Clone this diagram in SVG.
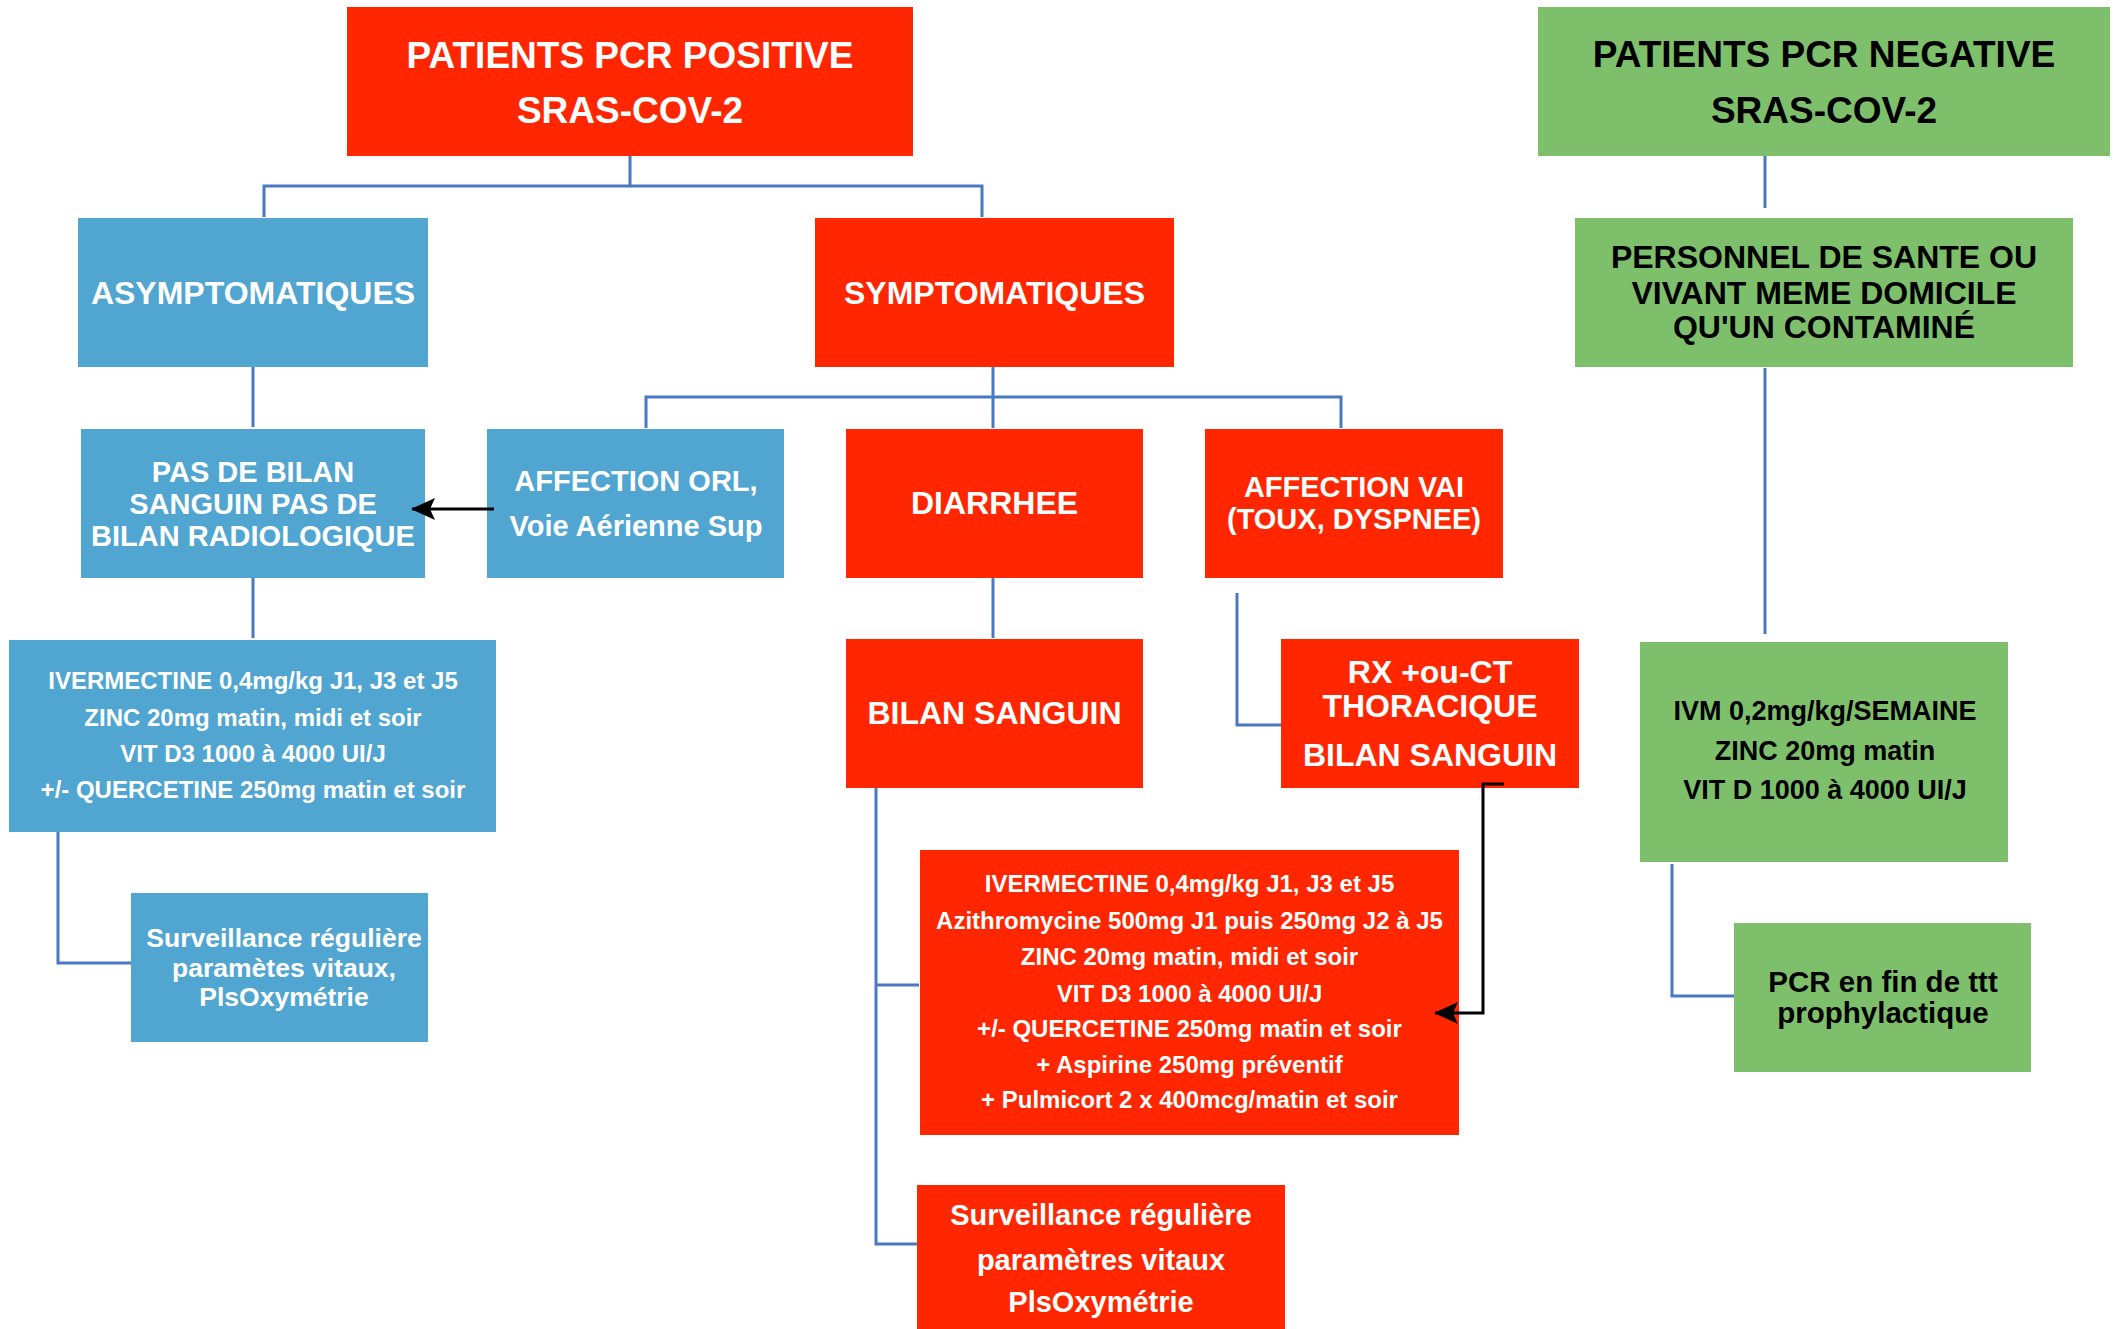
<svg xmlns="http://www.w3.org/2000/svg" width="2116" height="1329" viewBox="0 0 2116 1329">
<style>
.red{fill:#FF2600}
.blue{fill:#50A5D1}
.green{fill:#7EBF6B}
text{font-family:"Liberation Sans",Arial,Helvetica,sans-serif;font-weight:bold;text-anchor:middle}
.w{fill:#FFFFFF}
.k{fill:#000000}
.conn{fill:none;stroke:#4A78C2;stroke-width:3}
.arr{fill:none;stroke:#000000;stroke-width:3}
</style>
<defs>
<marker id="ah" viewBox="0 0 24 22" refX="23" refY="11" markerWidth="24" markerHeight="22" markerUnits="userSpaceOnUse" orient="auto">
<path d="M0,0 L24,11 L0,22 L5,11 z" fill="#000000"/>
</marker>
</defs>
<rect width="2116" height="1329" fill="#FFFFFF"/>
<g id="pcr-positive">
<rect class="red" x="347" y="7" width="566" height="149"/>
<text class="w" x="630" y="68" font-size="37">PATIENTS PCR POSITIVE</text>
<text class="w" x="630" y="123" font-size="37">SRAS-COV-2</text>
</g>
<g id="pcr-negative">
<rect class="green" x="1538" y="7" width="572" height="149"/>
<text class="k" x="1824" y="67" font-size="37">PATIENTS PCR NEGATIVE</text>
<text class="k" x="1824" y="123" font-size="37">SRAS-COV-2</text>
</g>
<g id="asymptomatiques">
<rect class="blue" x="78" y="218" width="350" height="149"/>
<text class="w" x="253" y="304" font-size="32">ASYMPTOMATIQUES</text>
</g>
<g id="symptomatiques">
<rect class="red" x="815" y="218" width="359" height="149"/>
<text class="w" x="994.5" y="304" font-size="32">SYMPTOMATIQUES</text>
</g>
<g id="personnel">
<rect class="green" x="1575" y="218" width="498" height="149"/>
<text class="k" x="1824" y="268" font-size="32">PERSONNEL DE SANTE OU</text>
<text class="k" x="1824" y="304" font-size="32">VIVANT MEME DOMICILE</text>
<text class="k" x="1824" y="338" font-size="32">QU'UN CONTAMINÉ</text>
</g>
<g id="pas-de-bilan">
<rect class="blue" x="81" y="429" width="344" height="149"/>
<text class="w" x="253" y="482" font-size="29">PAS DE BILAN</text>
<text class="w" x="253" y="514" font-size="29">SANGUIN PAS DE</text>
<text class="w" x="253" y="546" font-size="29">BILAN RADIOLOGIQUE</text>
</g>
<g id="affection-orl">
<rect class="blue" x="487" y="429" width="297" height="149"/>
<text class="w" x="636" y="491" font-size="29">AFFECTION ORL,</text>
<text class="w" x="636" y="536" font-size="29">Voie Aérienne Sup</text>
</g>
<g id="diarrhee">
<rect class="red" x="846" y="429" width="297" height="149"/>
<text class="w" x="994.5" y="514" font-size="32">DIARRHEE</text>
</g>
<g id="affection-vai">
<rect class="red" x="1205" y="429" width="298" height="149"/>
<text class="w" x="1354" y="497" font-size="29">AFFECTION VAI</text>
<text class="w" x="1354" y="529" font-size="29">(TOUX, DYSPNEE)</text>
</g>
<g id="traitement-asympto">
<rect class="blue" x="9" y="640" width="487" height="192"/>
<text class="w" x="253" y="689" font-size="24">IVERMECTINE 0,4mg/kg J1, J3 et J5</text>
<text class="w" x="253" y="726" font-size="24">ZINC 20mg matin, midi et soir</text>
<text class="w" x="253" y="762" font-size="24">VIT D3 1000 à 4000 UI/J</text>
<text class="w" x="253" y="798" font-size="24">+/- QUERCETINE 250mg matin et soir</text>
</g>
<g id="bilan-sanguin">
<rect class="red" x="846" y="639" width="297" height="149"/>
<text class="w" x="994.5" y="724" font-size="32">BILAN SANGUIN</text>
</g>
<g id="rx-ct">
<rect class="red" x="1281" y="639" width="298" height="149"/>
<text class="w" x="1430" y="683" font-size="32">RX +ou-CT</text>
<text class="w" x="1430" y="717" font-size="32">THORACIQUE</text>
<text class="w" x="1430" y="766" font-size="32">BILAN SANGUIN</text>
</g>
<g id="ivm-prophylaxie">
<rect class="green" x="1640" y="642" width="368" height="220"/>
<text class="k" x="1825" y="720" font-size="27">IVM 0,2mg/kg/SEMAINE</text>
<text class="k" x="1825" y="760" font-size="27">ZINC 20mg matin</text>
<text class="k" x="1825" y="799" font-size="27">VIT D 1000 à 4000 UI/J</text>
</g>
<g id="surveillance-asympto">
<rect class="blue" x="131" y="893" width="297" height="149"/>
<text class="w" x="284" y="947" font-size="26.5">Surveillance régulière</text>
<text class="w" x="284" y="977" font-size="26.5">paramètes vitaux,</text>
<text class="w" x="284" y="1006" font-size="26.5">PlsOxymétrie</text>
</g>
<g id="traitement-sympto">
<rect class="red" x="920" y="850" width="539" height="285"/>
<text class="w" x="1189.5" y="892" font-size="24">IVERMECTINE 0,4mg/kg J1, J3 et J5</text>
<text class="w" x="1189.5" y="929" font-size="24">Azithromycine 500mg J1 puis 250mg J2 à J5</text>
<text class="w" x="1189.5" y="965" font-size="24">ZINC 20mg matin, midi et soir</text>
<text class="w" x="1189.5" y="1002" font-size="24">VIT D3 1000 à 4000 UI/J</text>
<text class="w" x="1189.5" y="1037" font-size="24">+/- QUERCETINE 250mg matin et soir</text>
<text class="w" x="1189.5" y="1073" font-size="24">+ Aspirine 250mg préventif</text>
<text class="w" x="1189.5" y="1108" font-size="24">+ Pulmicort 2 x 400mcg/matin et soir</text>
</g>
<g id="pcr-fin">
<rect class="green" x="1734" y="923" width="297" height="149"/>
<text class="k" x="1883" y="992" font-size="29.5">PCR en fin de ttt</text>
<text class="k" x="1883" y="1023" font-size="29.5">prophylactique</text>
</g>
<g id="surveillance-sympto">
<rect class="red" x="917" y="1185" width="368" height="144"/>
<text class="w" x="1101" y="1225" font-size="29">Surveillance régulière</text>
<text class="w" x="1101" y="1270" font-size="29">paramètres vitaux</text>
<text class="w" x="1101" y="1312" font-size="29">PlsOxymétrie</text>
</g>
<g id="connectors">
<path class="conn" d="M630,156 V186 M264,217 V186 H982 V217"/>
<path class="conn" d="M993,367 V428 M646,428 V397 H1341 V428"/>
<path class="conn" d="M253,367 V427 M253,578 V638"/>
<path class="conn" d="M993,578 V638"/>
<path class="conn" d="M876,788 V1244 H917 M876,985 H919"/>
<path class="conn" d="M1237,593 V725 H1281"/>
<path class="conn" d="M58,832 V963 H131"/>
<path class="conn" d="M1765,156 V208 M1765,368 V634 M1672,864 V996 H1734"/>
<path class="arr" d="M494,509 H412" marker-end="url(#ah)"/>
<path class="arr" d="M1504,784 H1483 V1013 H1435" marker-end="url(#ah)"/>
</g>
</svg>
